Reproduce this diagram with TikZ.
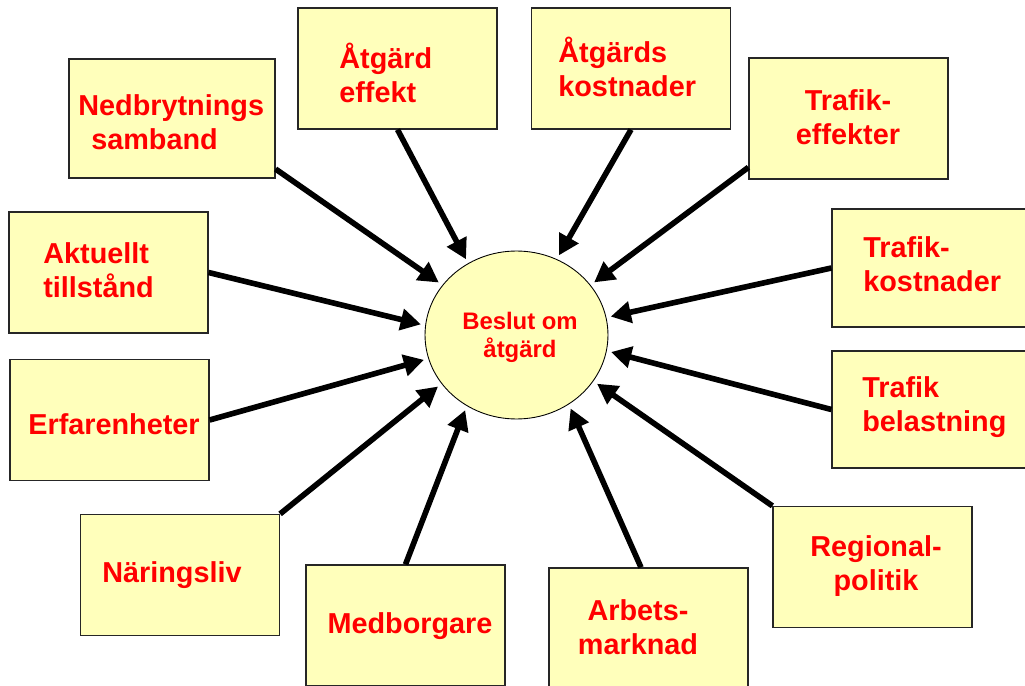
\documentclass[tikz,border=0pt]{standalone}
\usepackage{fontspec}
\setmainfont{Liberation Sans}
\usetikzlibrary{arrows.meta,shapes.geometric}

\definecolor{boxyellow}{RGB}{255,255,187}
\definecolor{labelred}{RGB}{255,0,0}

\tikzset{
	factor/.style={draw=black!85, line width=0.7pt, fill=boxyellow, minimum width=3.98cm, minimum height=2.42cm, inner sep=0pt},
	factortext/.style={text=labelred, font=\bfseries\fontsize{16.4}{19.3}\selectfont, inner sep=0pt},
	decision/.style={ellipse, draw=black, line width=0.5pt, fill=boxyellow, minimum width=3.66cm, minimum height=3.36cm, inner sep=0pt},
	decisiontext/.style={text=labelred, font=\bfseries\fontsize{13.6}{15.9}\selectfont, align=center, inner sep=0pt},
	influence/.style={line width=3.2pt, -{Triangle[length=11.5pt,width=12pt]}, shorten >=2.5pt},
}

\begin{document}
\begin{tikzpicture}[x=0.02cm, y=-0.02cm]
		\useasboundingbox (0,0) rectangle (1025,686);

		\node[decision] (Beslut) at (516.5,335) {};
		\node[decisiontext] (BeslutText) at (520,337) {Beslut om\\åtgärd};

		\node[factor, minimum width=4.12cm, minimum height=2.38cm] (Nedbrytning) at (172,118.5) {};
		\node[factortext, align=left, anchor=west] (NedbrytningText) at (78,122) {Nedbrytnings\\\hspace*{0.45em}samband};

		\node[factor] (AtgardEffekt) at (397.5,68.5) {};
		\node[factortext, align=left, anchor=west] (AtgardEffektText) at (339,73) {Åtgärd\\effekt};

		\node[factor] (AtgardKostnad) at (631,68.5) {};
		\node[factortext, align=left, anchor=west] (AtgardKostnadText) at (558,67) {Åtgärds\\kostnader};

		\node[factor] (TrafikEffekt) at (848.5,118.5) {};
		\node[factortext, align=center] (TrafikEffektText) at (848,117) {Trafik-\\effekter};

		\node[factor, minimum height=2.36cm] (TrafikKostnad) at (931.5,268) {};
		\node[factortext, align=left, anchor=west] (TrafikKostnadText) at (863,264) {Trafik-\\kostnader};

		\node[factor, minimum height=2.34cm] (TrafikBelastning) at (931.5,409.5) {};
		\node[factortext, align=left, anchor=west] (TrafikBelastningText) at (862,407) {Trafik\\belastning};

		\node[factor] (Regionalpolitik) at (872.5,567) {};
		\node[factortext, align=center] (RegionalpolitikText) at (876,566) {Regional-\\politik};

		\node[factor] (Arbetsmarknad) at (648.5,628.5) {};
		\node[factortext, align=center] (ArbetsmarknadText) at (638,627) {Arbets-\\marknad};

		\node[factor] (Medborgare) at (405.5,625.5) {};
		\node[factortext] (MedborgareText) at (410,626) {Medborgare};

		\node[factor] (Naringsliv) at (180,575) {};
		\node[factortext] (NaringslivText) at (172,575.5) {Näringsliv};

		\node[factor] (Erfarenheter) at (109.5,420) {};
		\node[factortext] (ErfarenheterText) at (114,424.5) {Erfarenheter};

		\node[factor] (Aktuellt) at (108.5,272.5) {};
		\node[factortext, align=left, anchor=west] (AktuelltText) at (43,270) {Aktuellt\\tillstånd};

		\draw[influence] (Nedbrytning.-26) -- (Beslut.146);
		\draw[influence] (AtgardEffekt.south) -- (Beslut.124);
		\draw[influence] (AtgardKostnad.south) -- (Beslut.62);
		\draw[influence] (TrafikEffekt.206) -- (Beslut.34);
		\draw[influence] (TrafikKostnad.west) -- (Beslut.11);
		\draw[influence] (TrafikBelastning.west) -- (Beslut.-10);
		\draw[influence] (Regionalpolitik.north west) -- (Beslut.-31);
		\draw[influence] (Arbetsmarknad.97) -- (Beslut.-53);
		\draw[influence] (Medborgare.north) -- (Beslut.235);
		\draw[influence] (Naringsliv.north east) -- (Beslut.213);
		\draw[influence] (Erfarenheter.east) -- (Beslut.195);
		\draw[influence] (Aktuellt.east) -- (Beslut.174);
	\end{tikzpicture}
\end{document}
